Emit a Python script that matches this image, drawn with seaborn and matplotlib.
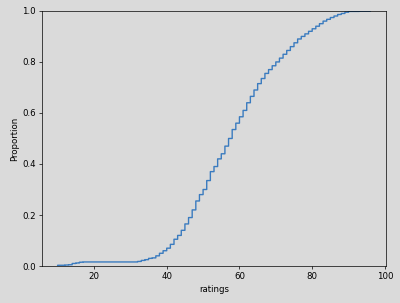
import numpy as np
import pandas as pd
import matplotlib
matplotlib.use("Agg")
import matplotlib.pyplot as plt
import seaborn as sns

rating_values = [10, 12, 13, 14, 15, 16, 17, 32, 33, 34, 35, 36, 37, 38, 39, 40,
                 41, 42, 43, 44, 45, 46, 47, 48, 49, 50, 51, 52, 53, 54, 55, 56,
                 57, 58, 59, 60, 61, 62, 63, 64, 65, 66, 67, 68, 69, 70, 71, 72,
                 73, 74, 75, 76, 77, 78, 79, 80, 81, 82, 83, 84, 85, 86, 87, 88,
                 89, 90, 93, 96]
rating_counts = [3, 1, 1, 5, 2, 3, 1, 2, 4, 3, 5, 2, 8, 10, 10, 10,
                 15, 20, 15, 20, 25, 25, 30, 35, 25, 20, 35, 35, 20, 30, 20, 30,
                 30, 35, 25, 25, 25, 30, 25, 25, 25, 20, 20, 15, 15, 15, 15, 15,
                 15, 15, 15, 15, 10, 10, 10, 10, 10, 10, 10, 7, 7, 6, 6, 4,
                 5, 3, 1, 1]

df = pd.DataFrame({"ratings": np.repeat(rating_values, rating_counts)})

bg = "#dadada"
fig, ax = plt.subplots(figsize=(6.4, 4.848), dpi=62.5)
fig.patch.set_facecolor(bg)
ax.set_facecolor(bg)

sns.ecdfplot(data=df, x="ratings", ax=ax, color="#3a7bbf", linewidth=1.6)

ax.set_xticks([20, 40, 60, 80, 100])
ax.set_yticks([0.0, 0.2, 0.4, 0.6, 0.8, 1.0])
fig.subplots_adjust(left=0.105, right=0.965, top=0.964, bottom=0.122)
fig.savefig("out.png", dpi=62.5, facecolor=bg)
